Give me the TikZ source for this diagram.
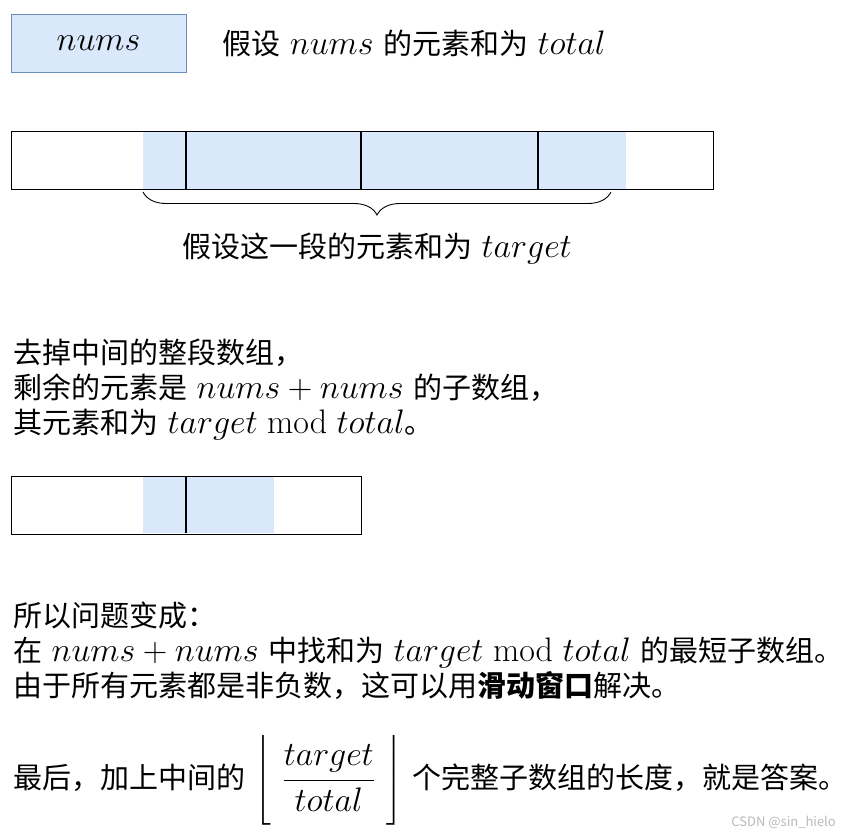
\RequirePackage{fix-cm}
\documentclass[tikz,border=0pt]{standalone}
\usepackage[no-math]{fontspec}
\setmainfont{Noto Sans CJK SC}
\usepackage{amsmath}
\usepackage{xcolor}
\usepackage{tikz}
\usetikzlibrary{positioning,decorations.pathreplacing}
\definecolor{cellblue}{HTML}{DAE8FC}
\definecolor{cellline}{HTML}{6C8EBF}
\newcommand{\mt}[1]{{\fontsize{34}{34}\selectfont$#1$}}
\newcommand{\widesp}{\spaceskip=9.5pt\relax}

\begin{document}
\begin{tikzpicture}[
  x=1pt, y=-1pt,
  txt/.style={anchor=west, inner sep=0pt, align=left, font=\fontsize{29}{35}\selectfont\widesp},
  numsbox/.style={draw=cellline, fill=cellblue, minimum width=175pt, minimum height=58pt, inner sep=0pt},
  cellrow/.style={draw, line width=1.2pt, anchor=north west, minimum height=58pt, inner sep=0pt},
  hl/.style={fill=cellblue},
  sep/.style={line width=1.2pt},
  brc/.style={decorate, decoration={brace, amplitude=23pt}, line width=0.9pt},
]
\useasboundingbox (0,0) rectangle (849,837);

% top: nums and its sum
\node[numsbox] (nums) at (98.5,43) {\mt{nums}};
\node[txt, right=36pt of nums] (sumtxt) {假设 \mt{nums} 的元素和为 \mt{total}};

% the long array
\fill[hl] (143,131) rectangle (626,189);
\node[cellrow, minimum width=702pt] (arr) at (11,131) {};
\draw[sep] (186,131) -- (186,189);
\draw[sep] (361,131) -- (361,189);
\draw[sep] (538,131) -- (538,189);
\coordinate (brA) at (143,192);
\coordinate (brB) at (611,192);
\draw[brc] (brB) -- (brA);
\node[txt, anchor=center] (tgt) at (377,249) {假设这一段的元素和为 \mt{target}};

% remove middle part
\node[txt, anchor=north west] (rest) at (13,339) {去掉中间的整段数组，\\
剩余的元素是 \mt{nums+nums} 的子数组，\\
其元素和为 \mt{target \bmod total}。};

% the short array
\fill[hl] (143,476) rectangle (274,533);
\node[cellrow, minimum width=350pt] (arr2) at (11,476) {};
\draw[sep] (186,476) -- (186,533);

% the new problem
\node[txt, anchor=north west] (prob) at (13,602) {所以问题变成：\\
在 \mt{nums+nums} 中找和为 \mt{target \bmod total} 的最短子数组。\\
由于所有元素都是非负数，这可以用\textbf{滑动窗口}解决。};

\node[txt] (last) at (13,780) {最后，加上中间的 \mt{\biggl\lfloor\mkern6mu\dfrac{target}{total}\mkern6mu\biggr\rfloor} 个完整子数组的长度，就是答案。};

\node[anchor=east, inner sep=0pt, text=gray!55, font=\fontsize{13}{13}\selectfont] (mark) at (836,822) {CSDN @sin\_hielo};
\end{tikzpicture}
\end{document}
